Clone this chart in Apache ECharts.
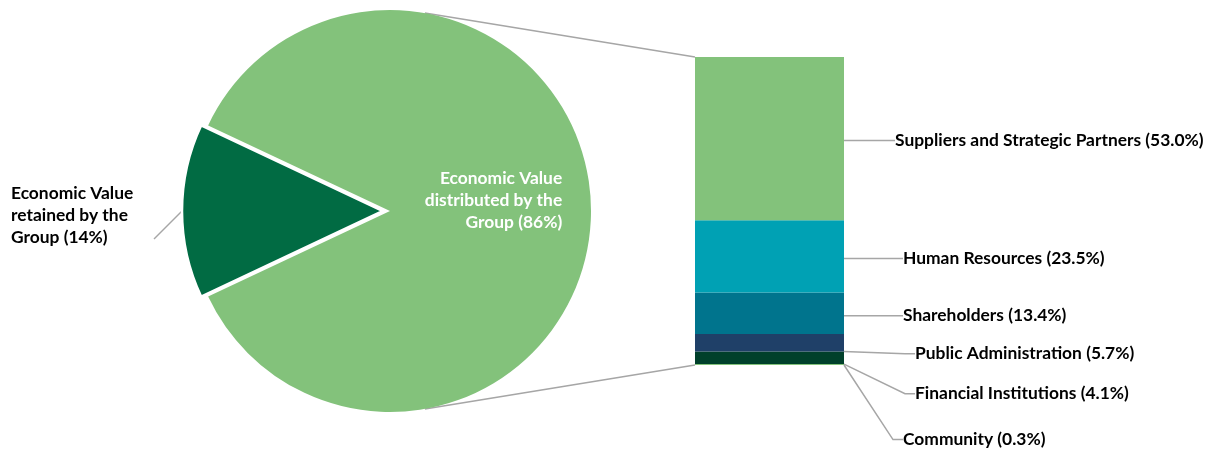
<!DOCTYPE html>
<html><head><meta charset="utf-8">
<script src="https://cdn.jsdelivr.net/npm/echarts@6/dist/echarts.min.js"></script>
<style>html,body{margin:0;padding:0;background:#fff}#c{width:1220px;height:449px}</style>
</head><body><div id="c"></div>
<script>
// ---- data ----
const pieLabels = ['Economic Value\nretained by the\nGroup', 'Economic Value\ndistributed by the\nGroup'];
const pieValues = [14, 86];
const barNames = ['Suppliers and Strategic Partners', 'Human Resources', 'Shareholders', 'Public Administration', 'Financial Institutions', 'Community'];
const barValues = [53.0, 23.5, 13.4, 5.7, 4.1, 0.3];

// ---- styles ----
const FONT = 'Lato';
const FS = 17.4;
const pieColors = ['#016B43', '#83C27B'];
const barColors = ['#83C27B', '#00A1B4', '#00748D', '#1F4068', '#00402B', '#83C27B'];
const labelShift = [[51, 2], [59, 2], [59, 2.5], [71, 11], [71, 36], [59, 75]];
const lineColor = '#A6A6A6';

const PIE_CX = 390, PIE_CY = 211, PIE_R = 201, EXPLODE = 7;
const GRID = { left: 695, top: 57, width: 149, height: 308 };
const startAngle = 180 + pieValues[0] / 100 * 360 / 2;

const chart = echarts.init(document.getElementById('c'), null, { renderer: 'canvas' });

function pieData(visibleIdx) {
  return pieValues.map((v, i) => {
    const vis = i === visibleIdx;
    return {
      value: v,
      name: pieLabels[i],
      itemStyle: vis ? { color: pieColors[i], borderColor: '#fff', borderWidth: i === 0 ? 2.5 : 0 } : { color: 'rgba(0,0,0,0)', borderWidth: 0 },
      label: { show: vis },
      labelLine: { show: vis && i === 0 }
    };
  });
}

const series = [];
// green (distributed) slice
series.push({
  type: 'pie', center: [PIE_CX, PIE_CY], radius: PIE_R, startAngle: startAngle, clockwise: true,
  silent: true, z: 1,
  data: pieData(1),
  label: {
    position: 'inside',
    formatter: p => p.name.split('\n').map((s, k, a) => '{r|' + s + (k === a.length - 1 ? ' (' + p.value + '%)' : '') + '}').join('\n'),
    padding: [0, 0, 22, 0],
    rich: { r: { align: 'right', color: '#fff', fontFamily: FONT, fontWeight: 'bold', fontSize: FS, lineHeight: 22 } }
  }
});
// dark (retained) slice, exploded
series.push({
  type: 'pie', center: [PIE_CX - EXPLODE, PIE_CY], radius: PIE_R, startAngle: startAngle, clockwise: true,
  silent: true, z: 2,
  data: pieData(0),
  label: {
    position: 'outside',
    formatter: p => p.name + ' (' + p.value + '%)',
    color: '#000', fontFamily: FONT, fontWeight: 'bold', fontSize: FS, lineHeight: 22, align: 'left'
  },
  labelLine: { show: true, length: 20, length2: 10, lineStyle: { color: lineColor, width: 1.5 } },
  labelLayout: function (p) {
    const pts = p.labelLinePoints;
    if (!pts) return {};
    const s = pts[0];
    const e = [s[0] - 28, s[1] + 28];
    return { x: 11, y: e[1] - 24, align: 'left', verticalAlign: 'middle', labelLinePoints: [s, e, e] };
  }
});

// stacked bar, bottom segment first
for (let i = barNames.length - 1; i >= 0; i--) {
  series.push({
    type: 'bar', name: barNames[i], stack: 'total', xAxisIndex: 0, yAxisIndex: 0,
    barWidth: '100%', silent: true,
    data: [barValues[i]],
    itemStyle: { color: barColors[i] },
    label: {
      show: true, position: 'right', distance: 0,
      formatter: barNames[i] + ' (' + barValues[i].toFixed(1) + '%)',
      color: '#000', fontFamily: FONT, fontWeight: 'bold', fontSize: FS
    },
    labelLine: { show: true, length2: 10, lineStyle: { color: lineColor, width: 1.5 } },
    labelLayout: { dx: labelShift[i][0], dy: labelShift[i][1] }
  });
}

// connector lines between pie and bar
const ang = 80 * Math.PI / 180;
const pTop = [PIE_CX + PIE_R * Math.cos(ang), PIE_CY - PIE_R * Math.sin(ang)];
const pBot = [PIE_CX + PIE_R * Math.cos(ang), PIE_CY + PIE_R * Math.sin(ang)];

chart.setOption({
  animation: false,
  backgroundColor: '#fff',
  grid: { left: GRID.left, top: GRID.top, width: GRID.width, height: GRID.height, containLabel: false },
  xAxis: { type: 'category', data: [''], show: false },
  yAxis: { type: 'value', min: 0, max: 100, show: false },
  series: series,
  graphic: [
    { type: 'line', z: 0, shape: { x1: pTop[0], y1: pTop[1], x2: GRID.left, y2: GRID.top }, style: { stroke: lineColor, lineWidth: 1.5 } },
    { type: 'line', z: 0, shape: { x1: pBot[0], y1: pBot[1], x2: GRID.left, y2: GRID.top + GRID.height }, style: { stroke: lineColor, lineWidth: 1.5 } }
  ]
});
</script>
</body></html>
